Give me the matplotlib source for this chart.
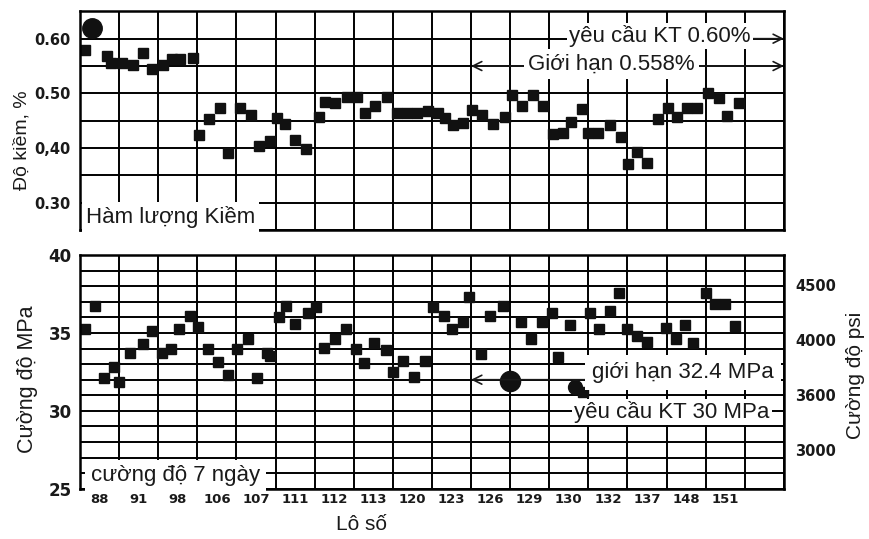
import matplotlib.pyplot as plt
from matplotlib.transforms import ScaledTranslation

plt.rcParams['font.family'] = ['Liberation Sans', 'DejaVu Sans']

# x = position along the lot axis (one grid column per labelled lot)
lots = ['88', '91', '98', '106', '107', '111', '112', '113', '120',
        '123', '126', '129', '130', '132', '137', '148', '151']

alk_x = [0.13, 0.69, 0.79, 1.07, 1.36, 1.61, 1.84, 2.12, 2.35, 2.56, 2.89,
         3.04, 3.30, 3.58, 3.79, 4.09, 4.37, 4.58, 4.86, 5.04, 5.24, 5.50,
         5.78, 6.11, 6.27, 6.52, 6.83, 7.08, 7.29, 7.54, 7.85, 8.11, 8.36,
         8.62, 8.90, 9.16, 9.34, 9.54, 9.80, 10.03, 10.28, 10.56, 10.87,
         11.05, 11.30, 11.59, 11.84, 12.10, 12.35, 12.56, 12.84, 12.99,
         13.25, 13.55, 13.84, 14.02, 14.25, 14.50, 14.78, 15.04, 15.27,
         15.52, 15.78, 16.06, 16.34, 16.55, 16.85]
alk_y = [0.579, 0.568, 0.555, 0.555, 0.551, 0.573, 0.544, 0.551, 0.562,
         0.562, 0.564, 0.424, 0.453, 0.473, 0.391, 0.473, 0.460, 0.403,
         0.413, 0.455, 0.444, 0.414, 0.398, 0.456, 0.484, 0.482, 0.493,
         0.493, 0.464, 0.477, 0.493, 0.464, 0.464, 0.464, 0.467, 0.464,
         0.455, 0.442, 0.445, 0.469, 0.460, 0.444, 0.456, 0.497, 0.477,
         0.497, 0.477, 0.425, 0.427, 0.447, 0.471, 0.427, 0.427, 0.442,
         0.420, 0.371, 0.392, 0.372, 0.453, 0.473, 0.456, 0.473, 0.473,
         0.500, 0.491, 0.458, 0.482]
alk_big_x = [0.31]
alk_big_y = [0.619]

str_x = [0.13, 0.38, 0.61, 0.87, 1.00, 1.28, 1.61, 1.84, 2.10, 2.33, 2.53,
         2.81, 3.02, 3.27, 3.53, 3.79, 4.02, 4.30, 4.53, 4.78, 4.86, 5.09,
         5.27, 5.50, 5.83, 6.04, 6.24, 6.52, 6.80, 7.06, 7.26, 7.52, 7.83,
         8.01, 8.26, 8.54, 8.82, 9.03, 9.31, 9.51, 9.80, 9.95, 10.26, 10.49,
         10.82, 11.28, 11.53, 11.82, 12.07, 12.23, 12.53, 12.86, 13.04,
         13.27, 13.55, 13.79, 13.99, 14.25, 14.50, 14.99, 15.24, 15.47,
         15.68, 16.01, 16.24, 16.50, 16.75]
str_y = [35.26, 36.73, 32.12, 32.82, 31.86, 33.72, 34.29, 35.13, 33.72,
         33.97, 35.26, 36.09, 35.38, 33.97, 33.14, 32.31, 33.97, 34.62,
         32.12, 33.72, 33.53, 36.03, 36.73, 35.58, 36.28, 36.67, 34.04,
         34.62, 35.26, 33.97, 33.08, 34.36, 33.91, 32.50, 33.21, 32.18,
         33.21, 36.67, 36.09, 35.26, 35.71, 37.31, 33.65, 36.09, 36.73,
         35.71, 34.62, 35.71, 36.28, 33.46, 35.51, 31.22, 36.28, 35.26,
         36.41, 37.56, 35.26, 34.81, 34.42, 35.32, 34.62, 35.51, 34.36,
         37.56, 36.86, 36.86, 35.45]
str_big_x = [11.0]
str_big_y = [31.92]
str_mid_x = [12.66]
str_mid_y = [31.54]

alk_ticks = [0.30, 0.40, 0.50, 0.60]
alk_labels = ['0.30', '0,40', '0.50', '0.60']
mpa_ticks = [25, 30, 35, 40]
psi_ticks = [3000, 3500, 4000, 4500]
psi_labels = ['3000', '3600', '4000', '4500']

ink = '#1a1a1a'
tickfont = dict(family='DejaVu Sans', weight='bold')

fig = plt.figure(figsize=(8.7, 5.39), dpi=100)
ax1 = fig.add_axes([0.092, 0.573, 0.809, 0.406])
ax2 = fig.add_axes([0.092, 0.093, 0.809, 0.434])

for ax in (ax1, ax2):
    ax.set_xlim(0, 18)
    ax.set_xticks(range(19), minor=True)
    ax.grid(which='minor', color='black', lw=1.4)
    ax.grid(which='major', axis='y', color='black', lw=1.4)
    ax.tick_params(which='both', length=0)
    for s in ax.spines.values():
        s.set_linewidth(1.8)

# top panel
ax1.set_ylim(0.25, 0.65)
ax1.set_yticks([0.25 + 0.05 * i for i in range(9)], minor=True)
ax1.set_yticks(alk_ticks, alk_labels)
ax1.set_xticks([])
for lbl in ax1.get_yticklabels():
    lbl.set(fontsize=10.5, color=ink, **tickfont)
    lbl.set_transform(lbl.get_transform() + ScaledTranslation(0, -0.05, fig.dpi_scale_trans))
ax1.tick_params(axis='y', pad=7)
ax1.plot(alk_x, alk_y, 's', color='#111', ms=7.5, ls='none')
ax1.plot(alk_big_x, alk_big_y, 'o', color='#111', ms=14, ls='none', clip_on=False)

arw = dict(arrowstyle='->', color=ink, lw=1.2, mutation_scale=16, shrinkA=0, shrinkB=0)
ax1.annotate('', xy=(18, 0.60), xytext=(17.0, 0.60), arrowprops=arw)
ax1.text(14.83, 0.604, 'yêu cầu KT 0.60%', ha='center', va='center', fontsize=16,
         color=ink, bbox=dict(fc='white', ec='none', pad=1.5))
ax1.annotate('', xy=(10.0, 0.55), xytext=(12.2, 0.55), arrowprops=arw)
ax1.annotate('', xy=(18, 0.55), xytext=(15.2, 0.55), arrowprops=arw)
ax1.text(13.58, 0.554, 'Giới hạn 0.558%', ha='center', va='center', fontsize=16,
         color=ink, bbox=dict(fc='white', ec='none', pad=3))
ax1.text(0.15, 0.274, 'Hàm lượng Kiềm', ha='left', va='center', fontsize=16,
         color=ink, bbox=dict(fc='white', ec='none', pad=2.5))

# bottom panel
ax2.set_ylim(25, 40)
ax2.set_yticks(range(25, 41), minor=True)
ax2.set_yticks(mpa_ticks, [str(t) for t in mpa_ticks])
ax2.set_xticks([i + 0.5 for i in range(len(lots))], lots)
for lbl in ax2.get_yticklabels():
    lbl.set(fontsize=12, color=ink, **tickfont)
for lbl in ax2.get_xticklabels():
    lbl.set(fontsize=9.5, color=ink, **tickfont)
ax2.tick_params(axis='y', pad=6)
ax2.tick_params(axis='x', pad=3)
ax2.plot(str_x, str_y, 's', color='#111', ms=7.5, ls='none')
ax2.plot(str_big_x, str_big_y, 'o', color='#111', ms=14.5, ls='none')
ax2.plot(str_mid_x, str_mid_y, 'o', color='#111', ms=10, ls='none')

ax2.annotate('', xy=(10.0, 32.0), xytext=(13.5, 32.0), arrowprops=arw)
ax2.text(15.42, 32.45, 'giới hạn 32.4 MPa', ha='center', va='center', fontsize=16,
         color=ink, bbox=dict(fc='white', ec='none', pad=5))
ax2.text(15.14, 29.9, 'yêu cầu KT 30 MPa', ha='center', va='center', fontsize=16,
         color=ink, bbox=dict(fc='white', ec='none', pad=1.5))
ax2.text(0.28, 25.85, 'cường độ 7 ngày', ha='left', va='center', fontsize=16,
         color=ink, bbox=dict(fc='white', ec='none', pad=4))

axr = ax2.twinx()
axr.set_ylim(2645, 4773)
axr.set_yticks(psi_ticks, psi_labels)
axr.tick_params(length=0, pad=8)
for lbl in axr.get_yticklabels():
    lbl.set(fontsize=10.5, color=ink, **tickfont)
for s in axr.spines.values():
    s.set_visible(False)

fig.text(22 / 870, 1 - 140 / 539, 'Độ kiềm, %', rotation=90, ha='center', va='center',
         fontsize=14, color=ink)
fig.text(28 / 870, 1 - 379 / 539, 'Cường độ MPa', rotation=90, ha='center', va='center',
         fontsize=15.5, color=ink)
fig.text(856 / 870, 1 - 375 / 539, 'Cường độ psi', rotation=90, ha='center', va='center',
         fontsize=15, color=ink)
fig.text(362 / 870, 1 - 525 / 539, 'Lô số', ha='center', va='center', fontsize=15, color=ink)

fig.savefig('out.png', dpi=100)
